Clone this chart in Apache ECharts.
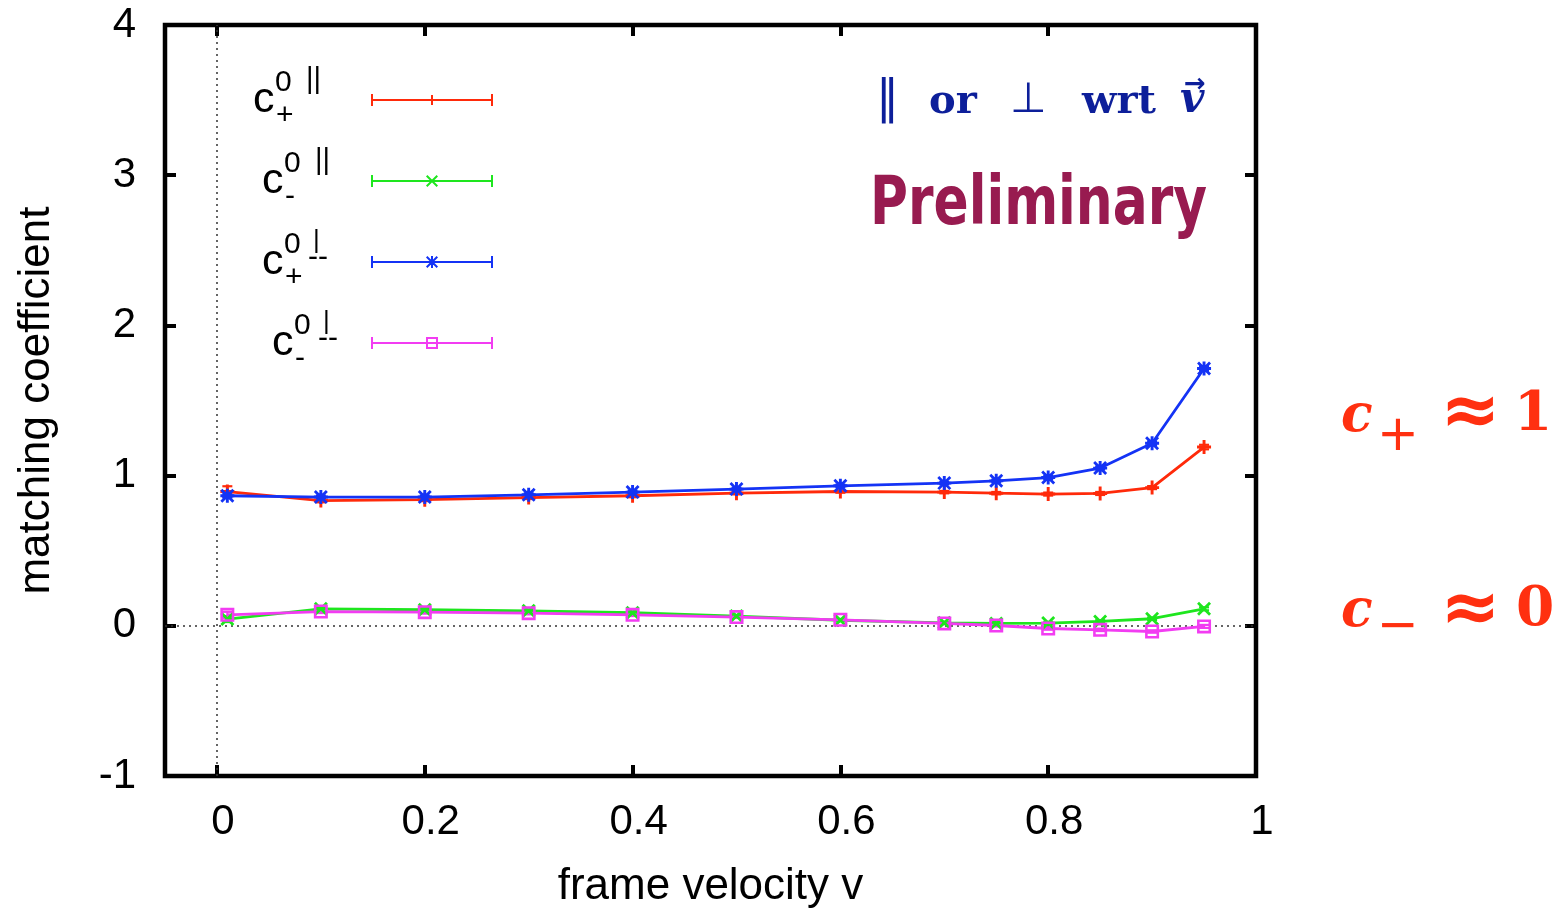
<!DOCTYPE html>
<html>
<head>
<meta charset="utf-8">
<script src="https://cdn.jsdelivr.net/npm/echarts@6/dist/echarts.min.js"></script>
<style>
  html, body { margin: 0; padding: 0; background: #fff; }
  #chart { width: 1561px; height: 909px; }
</style>
</head>
<body>
<div id="chart"></div>
<script>
// frame velocity v
const velocity = [0.01, 0.1, 0.2, 0.3, 0.4, 0.5, 0.6, 0.7, 0.75, 0.8, 0.85, 0.9, 0.95];

// matching coefficients
const cPlusPar = [0.894, 0.834, 0.84, 0.854, 0.866, 0.883, 0.894, 0.89, 0.883, 0.877, 0.881, 0.92, 1.19];
const cMinusPar = [0.045, 0.113, 0.107, 0.1, 0.087, 0.065, 0.037, 0.02, 0.016, 0.018, 0.029, 0.047, 0.113];
const cPlusPerp = [0.866, 0.857, 0.857, 0.872, 0.89, 0.91, 0.932, 0.95, 0.965, 0.987, 1.05, 1.215, 1.713];
const cMinusPerp = [0.073, 0.095, 0.091, 0.084, 0.073, 0.058, 0.04, 0.016, 0.002, -0.018, -0.027, -0.038, -0.004];

// errors
const errPlusPar = [0.035, 0.012, 0.01, 0.01, 0.01, 0.008, 0.008, 0.008, 0.008, 0.01, 0.01, 0.01, 0.015];
const errMinusPar = [0.02, 0.01, 0.01, 0.008, 0.008, 0.006, 0.006, 0.006, 0.006, 0.008, 0.008, 0.008, 0.01];
const errPlusPerp = [0.012, 0.01, 0.01, 0.01, 0.01, 0.008, 0.008, 0.008, 0.008, 0.01, 0.01, 0.012, 0.015];
const errMinusPerp = [0.02, 0.01, 0.01, 0.008, 0.008, 0.006, 0.006, 0.006, 0.006, 0.008, 0.008, 0.008, 0.01];

const xTicks = [0, 0.2, 0.4, 0.6, 0.8, 1];

const RED = '#ff2a0a';
const GREEN = '#1ee61e';
const BLUE = '#1433f5';
const PINK = '#f23cf2';

// gnuplot point types as filled paths
const PLUS = 'M4.75,0h2.5v12h-2.5z M0,4.75h12v2.5H0z';
const CROSS = 'M0,1.7L1.7,0L12,10.3L10.3,12z M10.3,0L12,1.7L1.7,12L0,10.3z';
const STAR = PLUS + ' ' + CROSS;
const BOX = 'M0,0h12v12h-12z M2.2,2.2v7.6h7.6v-7.6z';

// legend sample: line with error caps and a marker in the middle
function keyIcon(marker) {
  const base = 'M0,5h122v2H0z M0,0h2v12H0z M120,0h2v12h-2z';
  const m = {
    plus: 'M60,1h2v10h-2z M55,5h12v2h-12z',
    cross: 'M55,1.4L56.4,0L67,10.6L65.6,12z M65.6,0L67,1.4L56.4,12L55,10.6z',
    star: 'M60,0h2v12h-2z M55,5h12v2h-12z M55,1.4L56.4,0L67,10.6L65.6,12z M65.6,0L67,1.4L56.4,12L55,10.6z',
    box: 'M55,0h12v12h-12z M57,2v8h8v-8z'
  }[marker];
  return 'path://' + base + ' ' + m;
}

const chart = echarts.init(document.getElementById('chart'), null, { renderer: 'canvas' });

function lineSeries(name, values, color, sym, extra) {
  return Object.assign({
    name: name,
    type: 'line',
    data: velocity.map((v, i) => [v, values[i]]),
    symbol: 'path://' + sym,
    symbolSize: 14,
    showSymbol: true,
    lineStyle: { color: color, width: 2.8 },
    itemStyle: { color: color, borderWidth: 0 },
    z: 3
  }, extra || {});
}

function errSeries(values, errs, color) {
  return {
    type: 'custom',
    silent: true,
    z: 3,
    data: velocity.map((v, i) => [v, values[i] - errs[i], values[i] + errs[i]]),
    encode: { x: 0, y: [1, 2] },
    renderItem: function (params, api) {
      const lo = api.coord([api.value(0), api.value(1)]);
      const hi = api.coord([api.value(0), api.value(2)]);
      const st = { stroke: color, lineWidth: 2.2 };
      return {
        type: 'group',
        children: [
          { type: 'line', shape: { x1: lo[0], y1: lo[1], x2: hi[0], y2: hi[1] }, style: st },
          { type: 'line', shape: { x1: lo[0] - 5, y1: lo[1], x2: lo[0] + 5, y2: lo[1] }, style: st },
          { type: 'line', shape: { x1: hi[0] - 5, y1: hi[1], x2: hi[0] + 5, y2: hi[1] }, style: st }
        ]
      };
    }
  };
}

const SANS = '"Liberation Sans", Arial, Helvetica, sans-serif';

// legend labels c^{0 ||}_{+} etc.
function keyLabel(cx, cb, sub, perp) {
  const els = [
    { type: 'text', x: cx, y: cb - 15, style: { text: 'c', font: '43px ' + SANS, fill: '#000', align: 'left', verticalAlign: 'middle' } },
    { type: 'text', x: cx + 22, y: cb - 32.5, style: { text: '0', font: '30px ' + SANS, fill: '#000', align: 'left', verticalAlign: 'middle' } },
    { type: 'text', x: cx + 23, y: cb + 0.5, style: { text: sub, font: '30px ' + SANS, fill: '#000', align: 'left', verticalAlign: 'middle' } }
  ];
  if (perp) {
    els.push({ type: 'text', x: cx + 51, y: cb - 36, style: { text: '|', font: '26px ' + SANS, fill: '#000', align: 'left', verticalAlign: 'middle' } });
    els.push({ type: 'text', x: cx + 46, y: cb - 19, style: { text: '--', font: '30px ' + SANS, fill: '#000', align: 'left', verticalAlign: 'middle' } });
  } else {
    els.push({ type: 'text', x: cx + 53, y: cb - 35, style: { text: '||', font: '29px ' + SANS, fill: '#000', align: 'left', verticalAlign: 'middle' } });
  }
  return els;
}

// width of a text, used to squeeze the "Preliminary" stamp to size
function textWidth(text, font) {
  const t = new echarts.graphic.Text({ style: { text: text, font: font } });
  return t.getBoundingRect().width;
}
const PRELIM_FONT = 'bold 68px "DejaVu Sans Condensed", "DejaVu Sans", sans-serif';
const prelimScale = 337 / textWidth('Preliminary', PRELIM_FONT);

const NAVY = '#0d1f9a';
const ORANGE = '#ff3010';
const SERIF = '"DejaVu Serif", serif';

const graphics = []
  .concat(keyLabel(253, 115, '+', false))
  .concat(keyLabel(262, 196, '-', false))
  .concat(keyLabel(262, 277, '+', true))
  .concat(keyLabel(272, 358, '-', true))
  .concat([
    { type: 'text', x: 876, y: 100, style: { text: '\u2016', font: '46px "DejaVu Sans"', fill: NAVY, align: 'left', verticalAlign: 'middle' } },
    { type: 'text', x: 929, y: 103, style: { text: 'or', font: 'bold 40px ' + SERIF, fill: NAVY, align: 'left', verticalAlign: 'middle' } },
    { type: 'text', x: 1010, y: 101, style: { text: '\u22A5', font: '42px "DejaVu Sans"', fill: NAVY, align: 'left', verticalAlign: 'middle' } },
    { type: 'text', x: 1082, y: 103, style: { text: 'wrt', font: 'bold 40px ' + SERIF, fill: NAVY, align: 'left', verticalAlign: 'middle' } },
    { type: 'text', x: 1180, y: 101, style: { text: 'v', font: 'italic bold 42px ' + SERIF, fill: NAVY, align: 'left', verticalAlign: 'middle' } },
    { type: 'text', x: 1184, y: 85, style: { text: '\u2192', font: 'bold 26px "DejaVu Sans"', fill: NAVY, align: 'left', verticalAlign: 'middle' } },
    {
      type: 'text', x: 870, y: 206, scaleX: prelimScale,
      style: { text: 'Preliminary', font: PRELIM_FONT, fill: '#981b50', align: 'left', verticalAlign: 'middle' }
    },
    // c+ ~ 1
    { type: 'text', x: 1341, y: 417, style: { text: 'c', font: 'italic bold 52px ' + SERIF, fill: ORANGE, align: 'left', verticalAlign: 'middle' } },
    { type: 'text', x: 1377, y: 437, style: { text: '+', font: '50px "DejaVu Sans"', fill: ORANGE, align: 'left', verticalAlign: 'middle' } },
    { type: 'text', x: 1440, y: 415, style: { text: '\u2248', font: 'bold 72px "DejaVu Sans"', fill: ORANGE, align: 'left', verticalAlign: 'middle' } },
    { type: 'text', x: 1514, y: 416, style: { text: '1', font: 'bold 55px ' + SERIF, fill: ORANGE, align: 'left', verticalAlign: 'middle' } },
    // c- ~ 0
    { type: 'text', x: 1341, y: 612, style: { text: 'c', font: 'italic bold 52px ' + SERIF, fill: ORANGE, align: 'left', verticalAlign: 'middle' } },
    { type: 'text', x: 1377, y: 628, style: { text: '\u2212', font: '50px "DejaVu Sans"', fill: ORANGE, align: 'left', verticalAlign: 'middle' } },
    { type: 'text', x: 1440, y: 612, style: { text: '\u2248', font: 'bold 72px "DejaVu Sans"', fill: ORANGE, align: 'left', verticalAlign: 'middle' } },
    { type: 'text', x: 1516, y: 611, style: { text: '0', font: 'bold 55px ' + SERIF, fill: ORANGE, align: 'left', verticalAlign: 'middle' } }
  ]);

const tickStyle = { show: true, inside: true, length: 11, lineStyle: { color: '#000', width: 4 } };
const noLine = { show: false, onZero: false };

const option = {
  animation: false,
  backgroundColor: '#fff',
  textStyle: { fontFamily: SANS },
  grid: {
    left: 165, top: 25, right: 305, bottom: 133,
    outerBoundsMode: 'none',
    show: true, borderColor: '#000', borderWidth: 4.5, backgroundColor: 'transparent'
  },
  legend: {
    orient: 'vertical',
    left: 371,
    top: 94,
    padding: 0,
    itemWidth: 122,
    itemHeight: 12,
    itemGap: 69,
    selectedMode: false,
    formatter: () => '',
    textStyle: { fontSize: 1 },
    data: [
      { name: 'c+ par', icon: keyIcon('plus') },
      { name: 'c- par', icon: keyIcon('cross') },
      { name: 'c+ perp', icon: keyIcon('star') },
      { name: 'c- perp', icon: keyIcon('box') }
    ]
  },
  xAxis: [
    {
      type: 'value', position: 'bottom', min: -0.05, max: 1,
      axisLine: noLine,
      axisTick: Object.assign({ customValues: xTicks }, tickStyle),
      axisLabel: {
        customValues: xTicks, fontSize: 42, color: '#000', fontFamily: SANS,
        margin: 25, padding: [0, 0, 0, 12], formatter: (v) => String(v)
      },
      splitLine: { show: false },
      name: 'frame velocity v', nameLocation: 'middle', nameGap: 89,
      nameTextStyle: { fontSize: 44, color: '#000', fontFamily: SANS }
    },
    {
      type: 'value', position: 'top', min: -0.05, max: 1,
      axisLine: noLine,
      axisTick: Object.assign({ customValues: xTicks }, tickStyle),
      axisLabel: { show: false },
      splitLine: { show: false }
    }
  ],
  yAxis: [
    {
      type: 'value', position: 'left', min: -1, max: 4, interval: 1,
      axisLine: noLine,
      axisTick: tickStyle,
      axisLabel: { fontSize: 42, color: '#000', fontFamily: SANS, margin: 29 },
      splitLine: { show: false },
      name: 'matching coefficient', nameLocation: 'middle', nameRotate: 90, nameGap: 106,
      nameTextStyle: { fontSize: 44, color: '#000', fontFamily: SANS }
    },
    {
      type: 'value', position: 'right', min: -1, max: 4, interval: 1,
      axisLine: noLine,
      axisTick: tickStyle,
      axisLabel: { show: false },
      splitLine: { show: false }
    }
  ],
  graphic: graphics,
  series: [
    lineSeries('c+ par', cPlusPar, RED, PLUS, {
      markLine: {
        silent: true,
        symbol: 'none',
        label: { show: false },
        lineStyle: { color: '#333', width: 1.5, type: [2, 4] },
        z: 1,
        data: [{ xAxis: 0 }, { yAxis: 0 }]
      }
    }),
    errSeries(cPlusPar, errPlusPar, RED),
    lineSeries('c- par', cMinusPar, GREEN, CROSS),
    errSeries(cMinusPar, errMinusPar, GREEN),
    lineSeries('c+ perp', cPlusPerp, BLUE, STAR),
    errSeries(cPlusPerp, errPlusPerp, BLUE),
    lineSeries('c- perp', cMinusPerp, PINK, BOX),
    errSeries(cMinusPerp, errMinusPerp, PINK)
  ]
};

chart.setOption(option);
</script>
</body>
</html>
